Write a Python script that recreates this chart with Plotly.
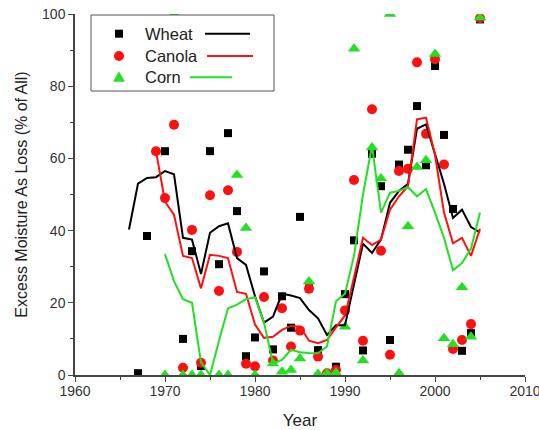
import plotly.graph_objects as go

# ---------------- data ----------------
wheat_years = [1967, 1968, 1970, 1972, 1973, 1974, 1975, 1976, 1977, 1978, 1979, 1980,
               1981, 1982, 1983, 1984, 1985, 1986, 1987, 1989, 1990, 1991, 1992, 1993,
               1994, 1995, 1996, 1997, 1998, 1999, 2000, 2001, 2002, 2003, 2004, 2005]
wheat_vals = [0.5, 38.5, 62, 10, 34.3, 2.5, 62, 30.7, 67, 45.4, 5.2, 10.4,
              28.7, 7.1, 21.8, 13.1, 43.8, 24, 6.9, 2.3, 22.4, 37.3, 6.8, 61.3,
              52.3, 9.7, 58.3, 62.4, 74.5, 58.1, 85.6, 66.5, 46, 6.7, 11.6, 98.5]

canola_years = [1969, 1970, 1971, 1972, 1973, 1974, 1975, 1976, 1977, 1978, 1979, 1980,
                1981, 1982, 1983, 1984, 1985, 1986, 1987, 1988, 1989, 1990, 1991, 1992,
                1993, 1994, 1995, 1996, 1997, 1998, 1999, 2000, 2001, 2002, 2003, 2004, 2005]
canola_vals = [62, 49, 69.3, 2.0, 40.2, 3.4, 49.8, 23.3, 51.2, 34.1, 3.1, 2.4,
               21.6, 4.0, 18.5, 7.9, 12.3, 23.9, 5.1, 0.5, 1.4, 17.9, 54, 9.5,
               73.6, 34.4, 5.6, 56.5, 57.1, 86.6, 66.8, 87.5, 58.3, 7.2, 9.7, 14.1, 98.8]

corn_years = [1970, 1971, 1972, 1973, 1974, 1976, 1977, 1978, 1979, 1980, 1982, 1983,
              1984, 1985, 1986, 1987, 1988, 1989, 1990, 1991, 1992, 1993, 1994, 1995,
              1996, 1997, 1998, 1999, 2000, 2001, 2002, 2003, 2004, 2005]
corn_vals = [0, 100, 0, 0, 0, 0, 0, 55.4, 40.7, 0, 3.2, 0.9,
             1.4, 4.6, 25.9, 0.3, 0.5, 0.6, 13.4, 90.4, 4.0, 63, 54.4, 100,
             0.5, 41.2, 57.6, 59.5, 88.9, 10.2, 8.5, 24.3, 10.6, 99]

# smoothed (running-mean) curves
wheat_line_years = list(range(1966, 2006))
wheat_line_vals = [40.3, 53, 54.6, 54.8, 56.5, 55.6, 38, 37.5, 28, 39.4, 41.2, 42, 32.4, 30.5,
                   21.8, 14.5, 16.2, 22.5, 22, 21.3, 18, 15.7, 11.1, 13.8, 13.8, 25, 36.4,
                   33.8, 37.5, 47.7, 51, 53, 68.2, 69.4, 61, 53, 43.5, 45.8, 41, 39.5]

canola_line_years = list(range(1969, 2006))
canola_line_vals = [62, 48, 44.4, 33, 32.4, 24, 33.3, 33, 32.4, 23, 22.5, 14, 10.3, 10.6,
                    12.5, 13.6, 13.4, 9.5, 8.8, 9.7, 13.2, 16.5, 27, 38, 36, 37.5, 45.8,
                    49.5, 52.3, 70.8, 71.3, 61, 45, 36.5, 38, 33, 40.5]

corn_line_years = list(range(1970, 2006))
corn_line_vals = [33.5, 26, 21, 20, 3.5, 0, 9.5, 18.5, 19.5, 21, 21.5, 14.5, 3.2, 4.2, 7,
                  6.3, 6.1, 6, 7.9, 20.4, 22.5, 33, 50, 63.5, 45, 50.5, 51, 52, 49.5, 51.5,
                  45, 38, 29, 31, 35, 45]

series_names = ["Wheat", "Canola", "Corn"]

# ---------------- styling ----------------
BLACK = "#000000"
RED = "#ff1010"
GREEN = "#22e022"
FONT = "Liberation Sans, Arial, sans-serif"

fig = go.Figure()

fig.add_trace(go.Scatter(x=wheat_years, y=wheat_vals, mode="markers",
                         marker=dict(symbol="square", size=8, color=BLACK),
                         showlegend=False))
fig.add_trace(go.Scatter(x=canola_years, y=canola_vals, mode="markers",
                         marker=dict(symbol="circle", size=10, color=RED),
                         showlegend=False))
fig.add_trace(go.Scatter(x=corn_years, y=corn_vals, mode="markers",
                         marker=dict(symbol="triangle-up", size=11, color=GREEN),
                         showlegend=False))

fig.add_trace(go.Scatter(x=wheat_line_years, y=wheat_line_vals, mode="lines",
                         line=dict(color=BLACK, width=2), showlegend=False))
fig.add_trace(go.Scatter(x=canola_line_years, y=canola_line_vals, mode="lines",
                         line=dict(color=RED, width=2), showlegend=False))
fig.add_trace(go.Scatter(x=corn_line_years, y=corn_line_vals, mode="lines",
                         line=dict(color=GREEN, width=2), showlegend=False))

# ---------------- custom Origin-style legend ----------------
W, H = 450.0, 361.0          # plot-area size in px
def px_x(p):
    return (p - 75) / W
def px_y(p):
    return (375 - p) / H

shapes = []
shapes.append(dict(type="rect", xref="paper", yref="paper",
                   x0=px_x(91), x1=px_x(274), y0=px_y(91), y1=px_y(15),
                   line=dict(color="#555555", width=1), fillcolor="white", layer="above"))

rows = [33.7, 56.0, 77.3]
colors = [BLACK, RED, GREEN]
line_spans = [(205, 250), (207, 253), (190, 232)]
mx = px_x(119)

shapes.append(dict(type="rect", xref="paper", yref="paper", xsizemode="pixel", ysizemode="pixel",
                   xanchor=mx, yanchor=px_y(rows[0]), x0=-4, x1=4, y0=-4, y1=4,
                   fillcolor=BLACK, line=dict(width=0), layer="above"))
shapes.append(dict(type="circle", xref="paper", yref="paper", xsizemode="pixel", ysizemode="pixel",
                   xanchor=mx, yanchor=px_y(rows[1]), x0=-5, x1=5, y0=-5, y1=5,
                   fillcolor=RED, line=dict(width=0), layer="above"))
shapes.append(dict(type="path", xref="paper", yref="paper", xsizemode="pixel", ysizemode="pixel",
                   xanchor=mx, yanchor=px_y(rows[2]), path="M -6,-4.5 L 6,-4.5 L 0,6 Z",
                   fillcolor=GREEN, line=dict(width=0), layer="above"))

annotations = []
for name, row, col, (a, b) in zip(series_names, rows, colors, line_spans):
    annotations.append(dict(text=name, xref="paper", yref="paper", x=px_x(143), y=px_y(row),
                            xanchor="left", yanchor="middle", showarrow=False,
                            font=dict(family=FONT, size=16.5, color="#222222")))
    shapes.append(dict(type="line", xref="paper", yref="paper",
                       x0=px_x(a), x1=px_x(b), y0=px_y(row), y1=px_y(row),
                       line=dict(color=col, width=2), layer="above"))

fig.update_layout(
    width=539, height=430,
    margin=dict(l=75, r=14, t=14, b=55, autoexpand=False),
    paper_bgcolor="white", plot_bgcolor="white",
    font=dict(family=FONT, size=14, color="#333333"),
    shapes=shapes, annotations=annotations,
    showlegend=False,
)

fig.update_xaxes(range=[1960, 2010], dtick=10, tick0=1960,
                 showgrid=False, zeroline=False, automargin=False,
                 ticklabeloverflow="allow", ticklabelstandoff=-3,
                 showline=True, linecolor="#444444", linewidth=1.5,
                 ticks="outside", ticklen=5, tickwidth=1.2, tickcolor="#444444",
                 minor=dict(dtick=5, tick0=1960, ticks="outside", ticklen=3, tickwidth=1.2,
                            tickcolor="#444444"),
                 tickfont=dict(size=14, color="#333333"),
                 title=dict(text="Year", font=dict(size=17, color="#222222"), standoff=18))

fig.update_yaxes(range=[0, 100], dtick=20, tick0=0,
                 showgrid=False, zeroline=False, automargin=False,
                 showline=True, linecolor="#444444", linewidth=1.5,
                 ticks="outside", ticklen=5, tickwidth=1.2, tickcolor="#444444",
                 minor=dict(dtick=10, ticks="outside", ticklen=3, tickwidth=1.2, tickcolor="#444444"),
                 tickfont=dict(size=14, color="#333333"),
                 title=dict(text="Excess Moisture As Loss (% of All)",
                            font=dict(size=16, color="#222222"), standoff=10))

fig.write_html("out.html")
